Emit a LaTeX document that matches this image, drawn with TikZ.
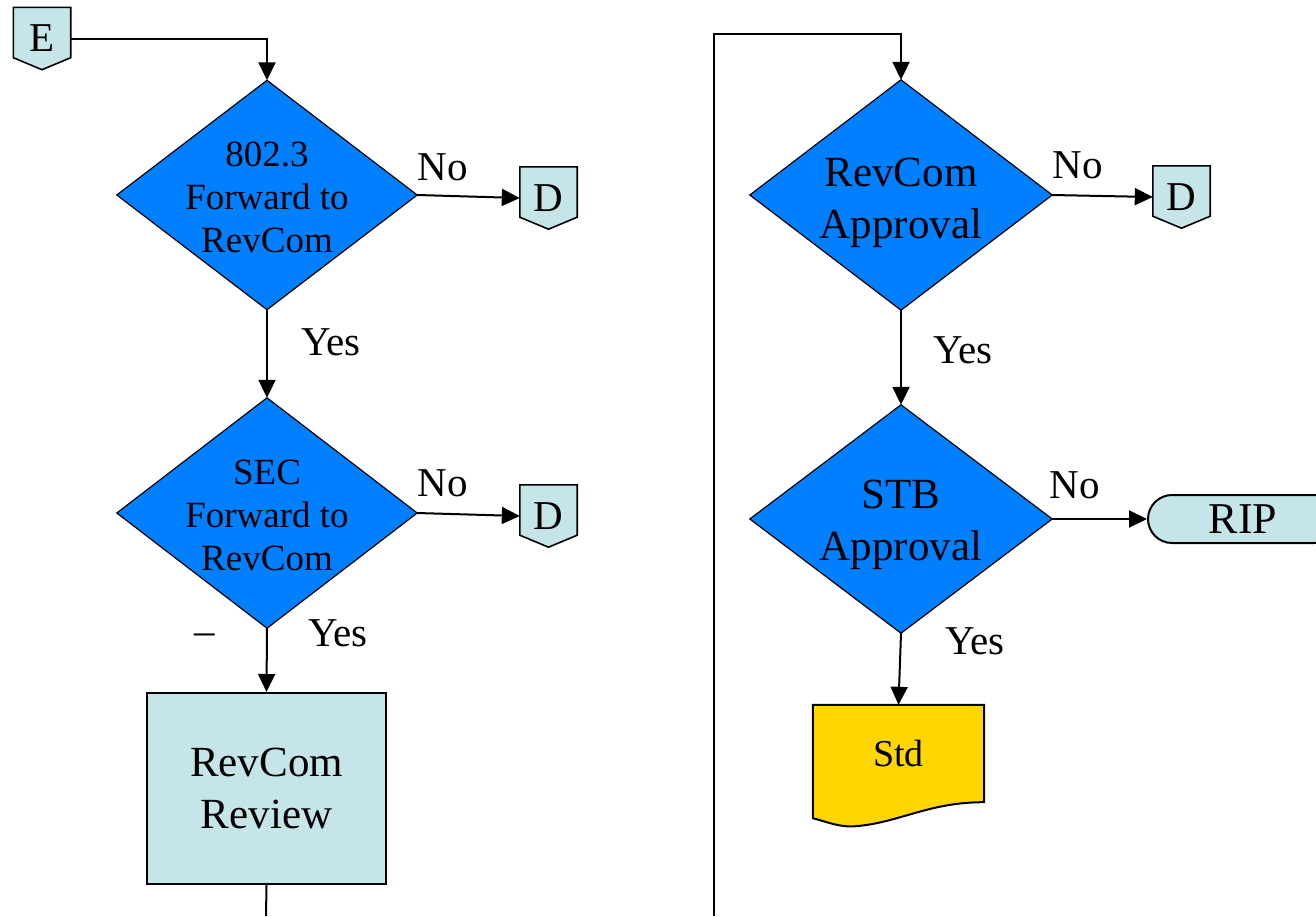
\documentclass[tikz,border=0pt]{standalone}
\usepackage{fontspec}
\setmainfont{Liberation Serif}
\usetikzlibrary{arrows.meta,backgrounds,calc}
\definecolor{dblue}{RGB}{0,128,255}
\definecolor{lcyan}{RGB}{198,229,232}
\definecolor{dyellow}{RGB}{255,214,0}
\tikzset{
  conn/.style={line width=2pt,-{Triangle[length=18pt,width=17pt]}},
  plain/.style={line width=2pt},
  decbox/.style={inner sep=0pt,minimum width=300pt,minimum height=229pt},
  dfill/.style={fill=dblue,draw=black,line width=1.2pt},
  cfill/.style={fill=lcyan,draw=black,line width=2pt},
  lbl/.style={font=\fontsize{41}{46}\selectfont,inner sep=0pt},
  smtxt/.style={font=\fontsize{37}{43}\selectfont,align=center,inner sep=0pt},
  bigtxt/.style={font=\fontsize{43}{52}\selectfont,align=center,inner sep=0pt},
  offpage/.style={inner sep=0pt,minimum width=57pt,minimum height=62pt,font=\fontsize{41}{46}\selectfont},
}
\newcommand{\offshape}[1]{%
  \draw[cfill,line width=1.6pt] (#1.north west) -- (#1.north east) -- ($(#1.south east)+(0,-12)$) -- (#1.south) -- ($(#1.south west)+(0,-12)$) -- cycle;}
\newcommand{\diashape}[1]{%
  \draw[dfill] (#1.north) -- (#1.east) -- (#1.south) -- (#1.west) -- cycle;}
\begin{document}
\begin{tikzpicture}[x=1pt,y=-1pt]
\useasboundingbox (0,0) rectangle (1316,916);
% diamonds
\node[decbox] (d1) at (267,195) {};
\node[decbox,minimum height=230pt] (d2) at (267,513) {};
\node[decbox,minimum width=302pt,minimum height=230pt] (d3) at (901,195) {};
\node[decbox,minimum width=302pt,minimum height=228pt] (d4) at (901,519) {};
\diashape{d1}\diashape{d2}\diashape{d3}\diashape{d4}
\node[smtxt] (t1) at (267,197) {802.3\\Forward to\\RevCom};
\node[smtxt] (t2) at (267,515) {SEC\\Forward to\\RevCom};
\node[bigtxt] (t3) at (901,203) {RevCom\\Approval};
\node[bigtxt] (t4) at (901,525) {STB\\Approval};
% off-page connectors
\node[offpage] (E) at (42,38.5) {E};
\node[offpage] (D1) at (548.5,198) {D};
\node[offpage] (D2) at (548.5,516) {D};
\node[offpage] (D3) at (1181.5,197) {D};
\begin{scope}[on background layer]
\offshape{E}\offshape{D1}\offshape{D2}\offshape{D3}
\end{scope}
% review box
\node[cfill,bigtxt,minimum width=239pt,minimum height=191pt,inner sep=0pt] (rev) at (266.5,788.5) {RevCom\\Review};
% terminator
\node[cfill,rounded corners=24pt,minimum width=190pt,minimum height=48pt,inner sep=0pt,font=\fontsize{44}{48}\selectfont] (rip) at (1243,519) {RIP};
% document
\node[inner sep=0pt,minimum width=171pt,minimum height=97pt,font=\fontsize{38}{44}\selectfont] (std) at (898.5,753.5) {\raisebox{-4pt}{Std}};
\begin{scope}[on background layer]
\draw[fill=dyellow,draw=black,line width=2pt] (std.north west) -- (std.north east) -- (std.south east)
  .. controls (930,802) and (900,822) .. (858,826)
  .. controls (840,828) and (828,822) .. ($(std.south west)+(0,16)$) -- cycle;
\end{scope}
% free ends
\coordinate (bL) at (266,916);
\coordinate (bR) at (714,916);
\coordinate (tR) at (714,34);
% connectors
\draw[conn] (E.east) -| (d1.north);
\draw[conn] (d1.east) -- (D1.west);
\draw[conn] (d1.south) -- (d2.north);
\draw[conn] (d2.east) -- (D2.west);
\draw[conn] (d2.south) -- (rev.north);
\draw[plain] (rev.south) -- (bL);
\draw[conn] (bR) -- (tR) -| (d3.north);
\draw[conn] (d3.east) -- (D3.west);
\draw[conn] (d3.south) -- (d4.north);
\draw[conn] (d4.east) -- (rip.west);
\draw[conn] (d4.south) -- (std.north);
% labels
\node[lbl] (n1) at (443,167) {No};
\node[lbl] (n2) at (443,483) {No};
\node[lbl] (n3) at (1078,165) {No};
\node[lbl] (n4) at (1075,485) {No};
\node[lbl] (y1) at (331,342) {Yes};
\node[lbl] (y2) at (338,633) {Yes};
\node[lbl] (y3) at (963,350) {Yes};
\node[lbl] (y4) at (975,641) {Yes};
\node[lbl] (dash) at (205,639) {–};
\end{tikzpicture}
\end{document}
